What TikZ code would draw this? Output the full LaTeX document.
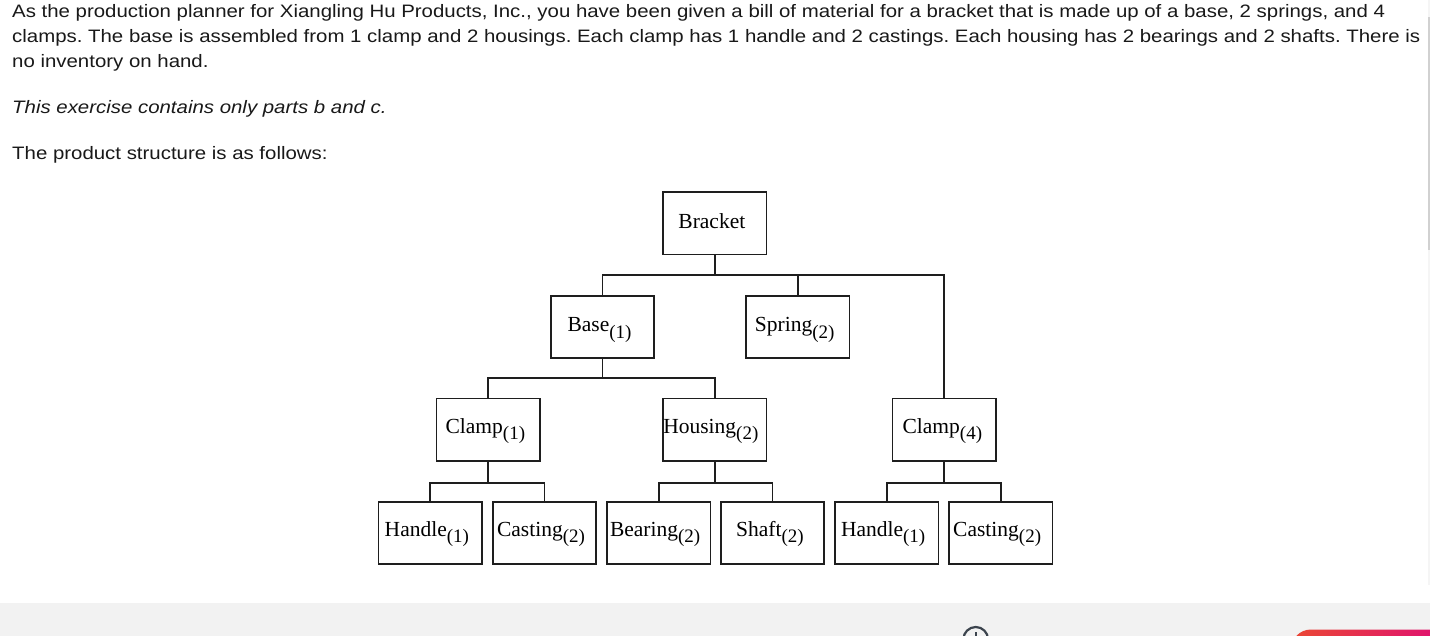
\documentclass[tikz,border=0pt]{standalone}
\usepackage{fontspec}
\setmainfont{Liberation Sans}[FakeStretch=1.134]
\newfontfamily\tnr{Liberation Serif}
\newcommand\qn[1]{\raisebox{-6.6pt}{\fontsize{19}{19}\selectfont(#1)}}
\definecolor{bandgray}{RGB}{242,242,242}
\definecolor{linecol}{RGB}{30,30,30}
\definecolor{iconcol}{RGB}{60,68,78}
\definecolor{btnred}{RGB}{234,72,52}
\definecolor{btnpink}{RGB}{222,10,120}
\tikzset{
  part/.style={draw=linecol, line width=1.7pt, minimum width=103.5pt, minimum height=62.3pt,
    inner sep=0pt, font=\tnr\fontsize{21.5}{21.5}\selectfont, text height=14.5pt, text depth=5.1pt},
  partlow/.style={part, text height=14pt, text depth=7.4pt},
  conn/.style={draw=linecol, line width=1.8pt},
  para/.style={anchor=base west, inner sep=0pt, font=\fontsize{18}{25}\selectfont\frenchspacing, text=black!90}
}
\begin{document}
\begin{tikzpicture}[x=1pt,y=-1pt]
\useasboundingbox (0,0) rectangle (1430,636);
\fill[white] (0,0) rectangle (1430,636);
% bottom band and scrollbar
\fill[bandgray] (0,603) rectangle (1430,636);
\fill[black!4] (1427.5,0) rectangle (1430,585);
\fill[black!18] (1428,17) rectangle (1430,250);

% question text
\node[para] (l1) at (12,18) {As the production planner for Xiangling Hu Products, Inc., you have been given a bill of material for a bracket that is made up of a base, 2 springs, and 4};
\node[para] (l2) at (12,43) {clamps. The base is assembled from 1 clamp and 2 housings. Each clamp has 1 handle and 2 castings. Each housing has 2 bearings and 2 shafts. There is};
\node[para] (l3) at (12,68) {no inventory on hand.};
\node[para, font=\fontsize{18}{25}\selectfont\itshape\frenchspacing] (l4) at (12,114) {This exercise contains only parts b and c.};
\node[para] (l5) at (12,160) {The product structure is as follows:};

% product structure
\node[part] (bracket) at (714.85,223.5) {Bracket\kern6pt};
\node[part] (base) at (602.5,326.85) {Base\qn{1}\kern6pt};
\node[part] (spring) at (797.65,326.85) {Spring\qn{2}\kern6pt};
\node[partlow] (clampA) at (488.35,429.7) {Clamp\qn{1}\kern6pt};
\node[partlow] (housing) at (714.85,429.7) {Housing\qn{2}\kern8pt};
\node[partlow] (clampB) at (944.35,429.7) {Clamp\qn{4}\kern4pt};
\node[partlow] (handleA) at (430.35,532.85) {Handle\qn{1}\kern7pt};
\node[partlow] (castingA) at (544.5,532.85) {Casting\qn{2}\kern7pt};
\node[partlow] (bearing) at (658.65,532.85) {Bearing\qn{2}\kern7pt};
\node[partlow] (shaft) at (772.5,532.85) {Shaft\qn{2}\kern5pt};
\node[partlow] (handleB) at (886.65,532.85) {Handle\qn{1}\kern7pt};
\node[partlow] (castingB) at (1000.65,532.85) {Casting\qn{2}\kern7pt};

\coordinate (busA) at (0,274.7);
\coordinate (busB) at (0,378);
\coordinate (busC) at (0,483);

\draw[conn] (bracket.south) -- (bracket.south |- busA);
\draw[conn] (base.north) |- (clampB.north |- busA) -- (clampB.north);
\draw[conn] (spring.north) -- (spring.north |- busA);

\draw[conn] (base.south) -- (base.south |- busB);
\draw[conn] (clampA.north) |- (housing.north |- busB) -- (housing.north);

\draw[conn] (clampA.south) -- (clampA.south |- busC);
\draw[conn] (handleA.north) |- (castingA.north |- busC) -- (castingA.north);
\draw[conn] (housing.south) -- (housing.south |- busC);
\draw[conn] (bearing.north) |- (shaft.north |- busC) -- (shaft.north);
\draw[conn] (clampB.south) -- (clampB.south |- busC);
\draw[conn] (handleB.north) |- (castingB.north |- busC) -- (castingB.north);

% partial bottom toolbar elements
\draw[iconcol, line width=2.2pt] (975.7,639.3) circle (12.3);
\draw[iconcol, line width=2.2pt] (975.7,632) -- (975.7,640);
\shade[left color=btnred, right color=btnpink, rounded corners=20pt] (1291,629.5) rectangle (1460,680);
\end{tikzpicture}
\end{document}
